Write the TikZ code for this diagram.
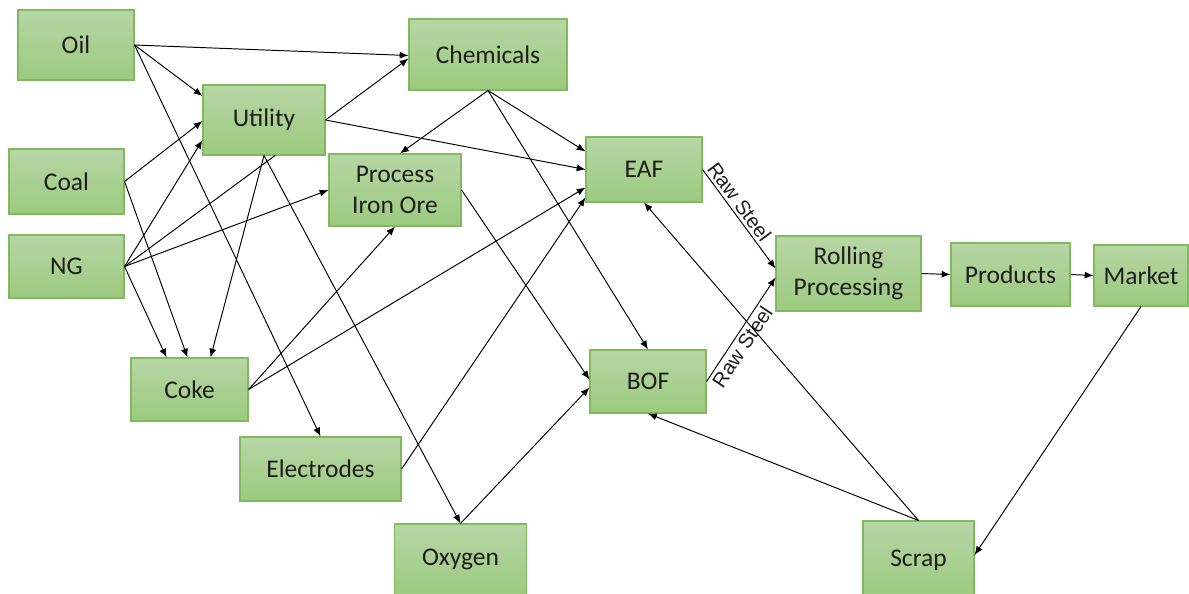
\documentclass[tikz,border=0pt]{standalone}
\usepackage{fontspec}
\setmainfont{Carlito}
\newfontfamily\arialfont{Liberation Sans}
\usetikzlibrary{calc,arrows.meta}
\definecolor{boxtop}{RGB}{183,214,165}
\definecolor{boxbottom}{RGB}{156,202,127}
\definecolor{boxline}{RGB}{128,186,94}
\definecolor{txt}{RGB}{30,30,30}
\newlength{\pxu}
\setlength{\pxu}{0.02cm}

\begin{document}
\begin{tikzpicture}[x=0.02cm,y=-0.02cm,
    box/.style={draw=boxline,line width=0.6pt,top color=boxtop,bottom color=boxbottom,
      text=txt,align=center,inner sep=0pt,font=\fontsize{14.5}{18}\selectfont},
    link/.style={-{Latex[length=5pt,width=4pt]},line width=0.55pt},
    steel/.style={sloped,inner sep=1.5pt,font=\arialfont\fontsize{11.5}{14}\selectfont,text=txt}
  ]
  \useasboundingbox (0,0) rectangle (1189,593);

  % the boxes
  \foreach \nd/\lbl/\x/\y/\bw/\bh in {
      oil/Oil/76/45/116/70,
      util/Utility/264/120/122/70,
      chem/Chemicals/488/54.5/158/71,
      coal/Coal/66.5/181.5/115/65,
      ng/NG/66.5/266.5/115/63,
      proc/{Process\\Iron Ore}/395/190/132/72,
      eaf/EAF/644/169.5/116/65,
      roll/{Rolling\\Processing}/848.5/273.5/145/75,
      prod/Products/1010.5/274.5/119/63,
      market/Market/1141/275.5/94/61,
      coke/Coke/189.5/389.5/117/63,
      elec/Electrodes/320.5/469/161/64,
      oxy/Oxygen/460.5/559.5/132/71,
      bof/BOF/648/381.5/116/63,
      scrap/Scrap/918.5/560/111/78}
    \node[box,minimum width=\bw\pxu,minimum height=\bh\pxu] (\nd) at (\x,\y) {\lbl};

  % the raw materials
  \draw[link] (oil.east) -- ($(chem.west)+(0,1)$);
  \draw[link] (oil.east) -- ($(util.west)+(0,-24)$);
  \draw[link] (oil.east) -- (elec.north);
  \draw[link] (coal.east) -- ($(util.west)+(0,1)$);
  \draw[link] (coal.east) -- ($(coke.north)+(-2,0)$);
  \draw[link] (ng.east) -- ($(util.west)+(0,20)$);
  \draw[line width=0.55pt] (ng.east) -- ($(util.south)+(11,0)$);
  \draw[link] (ng.east) -- (proc.west);
  \draw[link] (ng.east) -- ($(coke.north)+(-23,0)$);

  % the intermediates
  \draw[link] (util.south) -- ($(coke.north)+(21,0)$);
  \draw[link] (util.south) -- (oxy.north);
  \draw[link] (util.east) -- ($(chem.west)+(0,4)$);
  \draw[link] (util.east) -- (eaf.west);
  \draw[link] (chem.south) -- ($(proc.north)+(5,0)$);
  \draw[link] (chem.south) -- ($(eaf.west)+(0,-18)$);
  \draw[link] (chem.south) -- (bof.north);
  \draw[link] (proc.east) -- ($(bof.west)+(0,-2)$);
  \draw[link] (coke.east) -- (proc.south);
  \draw[link] (coke.east) -- ($(eaf.west)+(0,18)$);
  \draw[link] (elec.east) -- ($(eaf.west)+(0,28)$);
  \draw[link] (oxy.north) -- ($(bof.west)+(0,6)$);

  % the steel
  \draw[link] (eaf.east) -- node[steel,above,pos=0.39] {Raw Steel} ($(roll.west)+(0,-5)$);
  \draw[link] (bof.east) -- node[steel,below,pos=0.39] {Raw Steel} ($(roll.west)+(0,4)$);
  \draw[link] (roll.east) -- (prod.west);
  \draw[link] (prod.east) -- (market.west);
  \draw[link] (market.south) -- ($(scrap.east)+(0,-5)$);
  \draw[link] (scrap.north) -- (eaf.south);
  \draw[link] (scrap.north) -- (bof.south);
\end{tikzpicture}
\end{document}
